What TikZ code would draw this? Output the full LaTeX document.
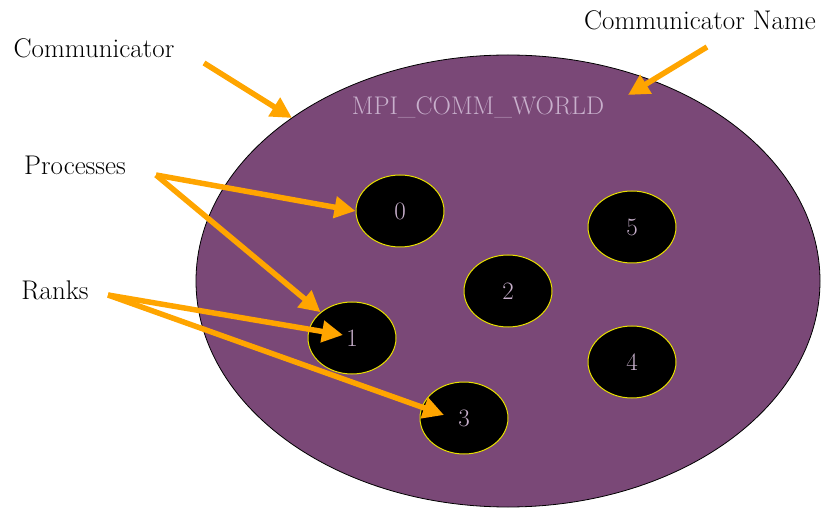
\documentclass[tikz,border=0pt]{standalone}
\usetikzlibrary{shapes.geometric,arrows.meta}
\definecolor{worldpurple}{HTML}{7A4877}
\definecolor{lav}{HTML}{C8B0CC}
\definecolor{arroworange}{HTML}{FFA500}
\definecolor{rankyellow}{HTML}{E8E000}
\begin{document}
\begin{tikzpicture}[x=1pt,y=-1pt,
  every node/.style={font=\fontsize{27}{32}\selectfont},
  world/.style={ellipse,draw=black,line width=0.8pt,fill=worldpurple,minimum width=624pt,minimum height=452pt,inner sep=0pt},
  proc/.style={ellipse,draw=rankyellow,line width=1pt,fill=black,text=lav,minimum width=88pt,minimum height=72pt,inner sep=0pt,font=\fontsize{25}{30}\selectfont},
  lbl/.style={text=black,inner sep=0pt},
  pointer/.style={draw=arroworange,line width=5.5pt,-{Triangle[length=21pt,width=21pt]}}]
\useasboundingbox (0,0) rectangle (824,510);
\node[world] (w) at (508,281) {};
\node[text=lav,inner sep=0pt,font=\fontsize{25.5}{30}\selectfont] (name) at (478,107) {MPI\_COMM\_WORLD};
\node[proc] (n0) at (400,211) {0};
\node[proc] (n1) at (352,338) {1};
\node[proc] (n2) at (508,291) {2};
\node[proc] (n3) at (464,418) {3};
\node[proc] (n4) at (632,362) {4};
\node[proc] (n5) at (632,227) {5};
\node[lbl] (lcomm) at (94,48) {Communicator};
\node[lbl] (lname) at (700,20) {Communicator Name};
\node[lbl] (lproc) at (75,165) {Processes};
\node[lbl] (lrank) at (55,290) {Ranks};
\coordinate (scomm) at (204,63);
\coordinate (ecomm) at (292,118);
\coordinate (sname) at (707,47);
\coordinate (ename) at (628,95);
\coordinate (sproc) at (156,175);
\coordinate (srank) at (108,295);
\coordinate (erank1) at (343,335);
\coordinate (erank3) at (444,415);
\draw[pointer] (scomm) -- (ecomm);
\draw[pointer] (sname) -- (ename);
\draw[pointer] (sproc) -- (n0.west);
\draw[pointer] (sproc) -- (n1.north west);
\draw[pointer] (srank) -- (erank1);
\draw[pointer] (srank) -- (erank3);
\end{tikzpicture}
\end{document}
